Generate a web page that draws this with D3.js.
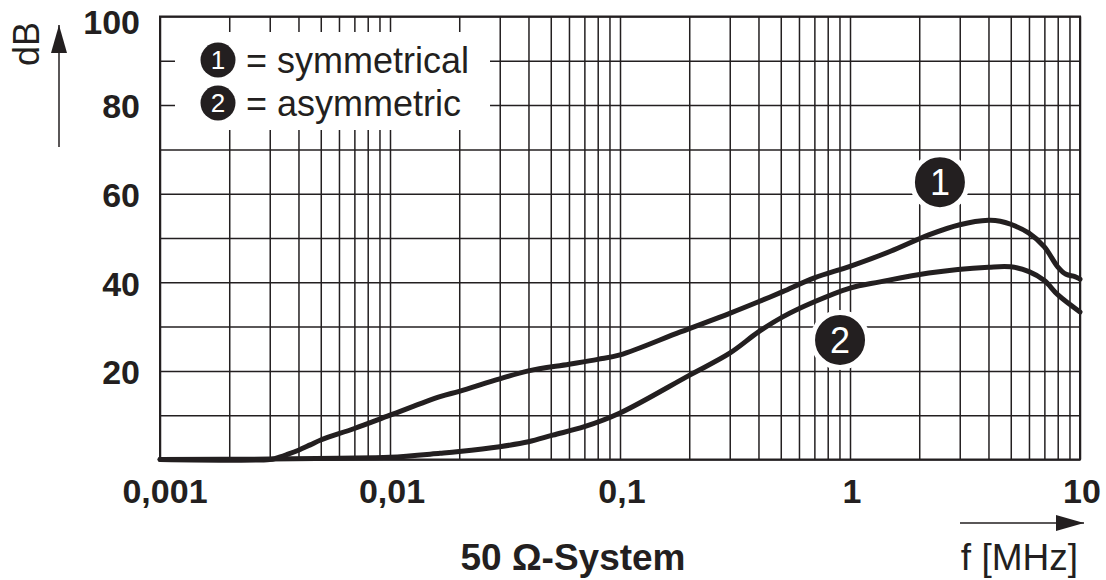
<!DOCTYPE html>
<html>
<head>
<meta charset="utf-8">
<script src="https://cdn.jsdelivr.net/npm/d3@7"></script>
<style>
html,body{margin:0;padding:0;background:#fff;}
svg{display:block;font-family:"Liberation Sans",Arial,Helvetica,sans-serif;}
</style>
</head>
<body>
<svg id="chart" width="1106" height="580"></svg>
<script>
// ---- data ----
const xTickValues = [0.001, 0.01, 0.1, 1, 10];
const xTickLabels = ["0,001", "0,01", "0,1", "1", "10"];
const yTickValues = [20, 40, 60, 80, 100];
const yTickLabels = ["20", "40", "60", "80", "100"];
const legendLabels = ["= symmetrical", "= asymmetric"];
const seriesNames = ["1", "2"];

const symFreq = [0.001, 0.003, 0.0032, 0.0036, 0.004, 0.0045, 0.005, 0.007, 0.01, 0.0165, 0.02, 0.03, 0.04, 0.06, 0.08, 0.1, 0.183, 0.3, 0.4, 0.51, 0.7, 1, 1.5, 2.2, 3, 4, 4.5, 5, 6, 7, 8, 8.7, 9.5, 10];
const symDb   = [0, 0, 0.3, 1.2, 2.1, 3.3, 4.4, 7, 10, 14.2, 15.4, 18.2, 20, 21.5, 22.6, 23.6, 28.8, 33, 35.6, 37.9, 41, 43.6, 47, 50.7, 53, 54, 53.8, 53.1, 51.1, 48, 43.5, 41.8, 41.3, 40.7];

const asymFreq = [0.001, 0.003, 0.006, 0.01, 0.0165, 0.02, 0.03, 0.04, 0.051, 0.07, 0.1, 0.2, 0.3, 0.4, 0.51, 0.7, 1, 1.35, 2.2, 4, 5, 6, 7, 8, 10];
const asymDb   = [0, 0.1, 0.3, 0.5, 1.4, 1.8, 2.9, 4, 5.5, 7.4, 10.5, 19, 24, 28.8, 32.2, 35.6, 38.7, 40.1, 42.1, 43.4, 43.5, 42.4, 40.4, 37.2, 33.3];

// ---- layout ----
const ink = "#231f20";
const svg = d3.select("#chart");
const x = d3.scaleLog().domain([0.001, 10]).range([160, 1080]);
const y = d3.scaleLinear().domain([0, 100]).range([459.5, 16.5]);

const vGrid = [];
for (let e = -3; e < 1; e++) for (let k = 1; k <= 9; k++) vGrid.push(k * Math.pow(10, e));
vGrid.push(10);
const hGrid = d3.range(0, 101, 10);

const gx = svg.append("g").attr("transform", `translate(0,${y(0)})`)
  .call(d3.axisBottom(x).tickValues(vGrid).tickSize(-(y(0) - y(100))).tickFormat(""));
gx.select(".domain").remove();
gx.selectAll(".tick line").attr("stroke", ink).attr("stroke-width", 1.5);

const gy = svg.append("g").attr("transform", `translate(${x(0.001)},0)`)
  .call(d3.axisLeft(y).tickValues(hGrid).tickSize(-(x(10) - x(0.001))).tickFormat(""));
gy.select(".domain").remove();
gy.selectAll(".tick line").attr("stroke", ink).attr("stroke-width", 1.5);

svg.append("rect").attr("x", x(0.001)).attr("y", y(100))
  .attr("width", x(10) - x(0.001)).attr("height", y(0) - y(100))
  .attr("fill", "none").attr("stroke", ink).attr("stroke-width", 2);

// curves
const line = d3.line().x(d => x(d[0])).y(d => y(d[1])).curve(d3.curveCatmullRom.alpha(0.5));
const sym = symFreq.map((f, i) => [f, symDb[i]]);
const asym = asymFreq.map((f, i) => [f, asymDb[i]]);
[sym, asym].forEach(s => {
  svg.append("path").datum(s).attr("d", line)
    .attr("fill", "none").attr("stroke", ink).attr("stroke-width", 5)
    .attr("stroke-linejoin", "round").attr("stroke-linecap", "round");
});

// tick labels
svg.append("g").selectAll("text").data(xTickValues).join("text")
  .attr("x", (d, i) => x(d) + (i === 0 ? 5 : 2)).attr("y", 503)
  .attr("text-anchor", "middle").attr("font-weight", "bold").attr("font-size", 34).attr("fill", ink)
  .text((d, i) => xTickLabels[i]);
svg.append("g").selectAll("text").data(yTickValues).join("text")
  .attr("x", 140).attr("y", d => y(d) + (d === 100 ? 5 : 1))
  .attr("dy", "0.36em")
  .attr("text-anchor", "end").attr("font-weight", "bold").attr("font-size", 34).attr("fill", ink)
  .text((d, i) => yTickLabels[i]);

// legend
svg.append("rect").attr("x", 175).attr("y", 32).attr("width", 315).attr("height", 98).attr("fill", "#fff");
const legY = [60, 103];
legY.forEach((ly, i) => {
  svg.append("circle").attr("cx", 218).attr("cy", ly).attr("r", 17.5).attr("fill", ink);
  svg.append("text").attr("x", 218).attr("y", ly).attr("dy", "0.36em")
    .attr("text-anchor", "middle").attr("font-size", 26).attr("fill", "#fff").text(seriesNames[i]);
  svg.append("text").attr("x", 246).attr("y", ly).attr("dy", "0.36em")
    .attr("font-size", 36).attr("fill", ink).text(legendLabels[i]);
});

// markers on chart
const markers = [{f: 2.46, db: 62.6, n: "1"}, {f: 0.905, db: 27, n: "2"}];
markers.forEach(m => {
  svg.append("circle").attr("cx", x(m.f)).attr("cy", y(m.db)).attr("r", 27.5)
    .attr("fill", ink).attr("stroke", "#fff").attr("stroke-width", 5);
  svg.append("text").attr("x", x(m.f)).attr("y", y(m.db)).attr("dy", "0.36em")
    .attr("text-anchor", "middle").attr("font-size", 36).attr("fill", "#fff").text(m.n);
});

// axis arrows
const defs = svg.append("defs");
defs.append("marker").attr("id", "arr").attr("viewBox", "0 0 28 16")
  .attr("refX", 28).attr("refY", 8).attr("markerUnits", "userSpaceOnUse")
  .attr("markerWidth", 28).attr("markerHeight", 16).attr("orient", "auto")
  .append("path").attr("d", "M0,0 L28,8 L0,16 Z").attr("fill", ink);

svg.append("line").attr("x1", 59).attr("y1", 147).attr("x2", 59).attr("y2", 25)
  .attr("stroke", ink).attr("stroke-width", 1.5).attr("marker-end", "url(#arr)");
svg.append("line").attr("x1", 960).attr("y1", 523).attr("x2", 1084).attr("y2", 523)
  .attr("stroke", ink).attr("stroke-width", 1.5).attr("marker-end", "url(#arr)");

// axis titles
svg.append("text").attr("transform", "translate(39,44) rotate(-90)")
  .attr("text-anchor", "middle").attr("font-size", 36).attr("fill", ink).text("dB");
svg.append("text").attr("x", 1078).attr("y", 570).attr("text-anchor", "end")
  .attr("font-size", 37).attr("fill", ink).text("f [MHz]");
svg.append("text").attr("x", 573).attr("y", 570).attr("text-anchor", "middle")
  .attr("font-weight", "bold").attr("font-size", 37).attr("fill", ink).text("50 Ω-System");
</script>
</body>
</html>
